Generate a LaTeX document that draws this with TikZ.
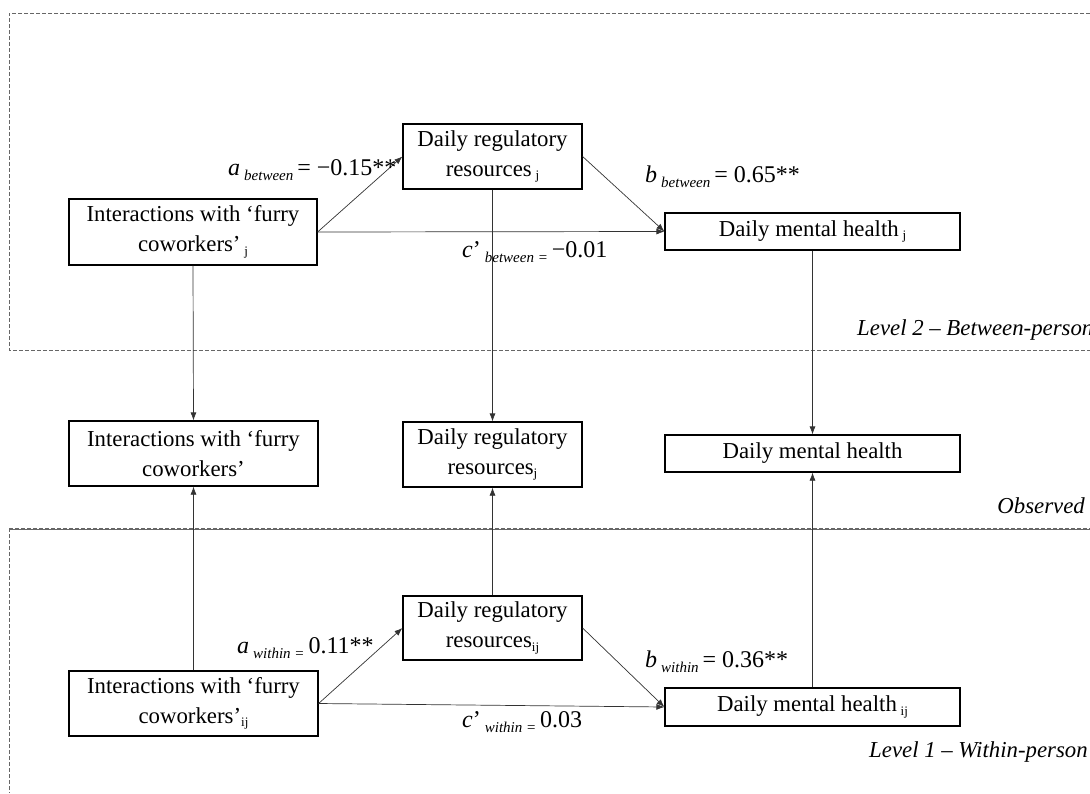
\documentclass[tikz,border=0pt]{standalone}
\usepackage{fontspec}
\setmainfont{Liberation Serif}
\usetikzlibrary{arrows.meta}
\newcommand{\sbs}[1]{\raisebox{-0.35ex}{\fontsize{13}{13}\selectfont #1}}
\newcommand{\lsub}[1]{\raisebox{-0.5ex}{\fontsize{15}{15}\selectfont\itshape #1}}
\begin{document}
\begin{tikzpicture}[x=1pt,y=-1pt,
  box/.style={draw, line width=1.2pt, align=center, inner sep=0pt,
    font=\fontsize{22.8}{30}\selectfont},
  arr/.style={-{Latex[length=8pt,width=6pt]}, line width=0.7pt, draw=black!80},
  lbl/.style={inner sep=0pt, font=\fontsize{24}{28}\selectfont},
  lvl/.style={inner sep=0pt, font=\fontsize{22.8}{27}\selectfont\itshape},
  frame/.style={dash pattern=on 4pt off 2pt, draw=black!60, line width=0.8pt}]
\useasboundingbox (0,0) rectangle (1090,793);
% frames
\draw[frame] (1090,13) -- (9,13) -- (9,350) -- (1090,350);
\draw[frame] (1090,529) -- (9,529) -- (9,793);
\draw[frame, line width=1.1pt] (9,529) -- (1090,529);
% between level
\node[box, minimum width=248pt, minimum height=66pt] (xb) at (193,232) {Interactions with ‘furry\\coworkers’\,\sbs{j}};
\node[box, minimum width=179pt, minimum height=65pt] (mb) at (492.5,156.5) {Daily regulatory\\resources\,\sbs{j}};
\node[box, minimum width=295pt, minimum height=37pt] (yb) at (812.5,231.5) {Daily mental health\,\sbs{j}};
% observed
\node[box, minimum width=249pt, minimum height=65pt] (xo) at (193.5,453.5) {Interactions with ‘furry\\coworkers’};
\node[box, minimum width=179pt, minimum height=65pt] (mo) at (492.5,454.5) {Daily regulatory\\resources\sbs{j}};
\node[box, minimum width=295pt, minimum height=37pt] (yo) at (812.5,453.5) {Daily mental health};
% within level
\node[box, minimum width=249pt, minimum height=65pt] (xw) at (193.5,703.5) {Interactions with ‘furry\\coworkers’\sbs{ij}};
\node[box, minimum width=179pt, minimum height=64pt] (mw) at (492.5,628) {Daily regulatory\\resources\sbs{ij}};
\node[box, minimum width=295pt, minimum height=38pt] (yw) at (812.5,707) {Daily mental health\,\sbs{ij}};
% connectors between
\draw[arr] (xb.east) -- (mb.west);
\draw[arr] (xb.east) -- (yb.west);
\draw[arr] (mb.east) -- (yb.west);
% connectors within
\draw[arr] (xw.east) -- (mw.west);
\draw[arr] (xw.east) -- (yw.west);
\draw[arr] (mw.east) -- (yw.west);
% vertical
\draw[arr] (xb.south) -- (xo.north);
\draw[arr] (mb.south) -- (mo.north);
\draw[arr] (yb.south) -- (yo.north);
\draw[arr] (xw.north) -- (xo.south);
\draw[arr] (mw.north) -- (mo.south);
\draw[arr] (yw.north) -- (yo.south);
% path labels
\node[lbl, anchor=base west] (la1) at (228,175) {\textit{a}\,\lsub{between}\,= −0.15**};
\node[lbl, anchor=base west] (lc1) at (462,257) {\textit{c}’\,\lsub{between =}\,−0.01};
\node[lbl, anchor=base west] (lb1) at (645,182) {\textit{b}\,\lsub{between}\,= 0.65**};
\node[lbl, anchor=base west] (la2) at (237,653) {\textit{a}\,\lsub{within =}\,0.11**};
\node[lbl, anchor=base west] (lc2) at (462,727) {\textit{c}’\,\lsub{within =}\,0.03};
\node[lbl, anchor=base west] (lb2) at (645,667) {\textit{b}\,\lsub{within}\,= 0.36**};
% level labels
\node[lvl, anchor=base west] (l2) at (857,335) {Level 2 – Between-person};
\node[lvl, anchor=base east] (lo) at (1085,513) {Observed};
\node[lvl, anchor=base west] (l1) at (869,757) {Level 1 – Within-person};
\end{tikzpicture}
\end{document}
